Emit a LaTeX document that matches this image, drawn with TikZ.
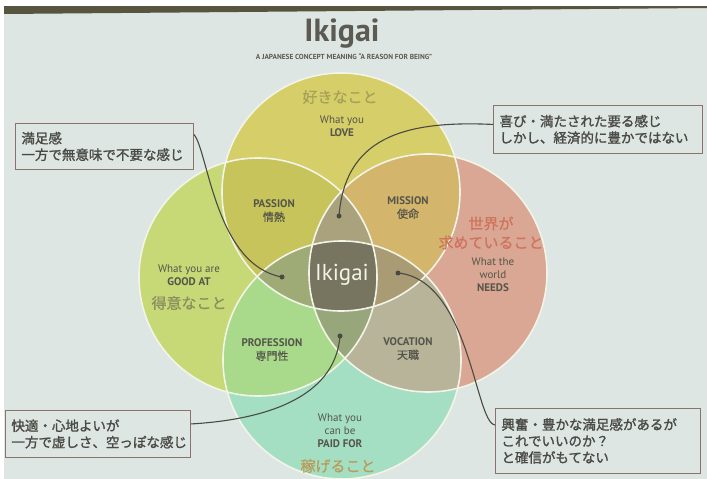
\documentclass[tikz,border=0pt]{standalone}
\usepackage{fontspec}
\setmainfont{PT Sans}
\newfontfamily\jp[FakeBold=0.7]{Noto Sans CJK JP}
\newfontfamily\jpc[FakeBold=1.4]{Noto Sans CJK JP}
\usetikzlibrary{calc}
\definecolor{bg}{HTML}{DDE6E2}
\definecolor{band}{HTML}{57553F}
\definecolor{cT}{HTML}{D5CE69}
\definecolor{cL}{HTML}{C7D876}
\definecolor{cR}{HTML}{D9A793}
\definecolor{cB}{HTML}{A5DFC3}
\definecolor{cTL}{HTML}{C6C45A}
\definecolor{cTR}{HTML}{D3B56B}
\definecolor{cLB}{HTML}{A9D98B}
\definecolor{cRB}{HTML}{B8B49A}
\definecolor{cTLR}{HTML}{A9A27C}
\definecolor{cTLB}{HTML}{9EAB76}
\definecolor{cTRB}{HTML}{A99C75}
\definecolor{cLRB}{HTML}{98A67C}
\definecolor{cQ}{HTML}{777560}
\definecolor{ringC}{HTML}{F3F4E8}
\definecolor{labC}{HTML}{55554A}
\definecolor{titleC}{HTML}{5C5B53}
\definecolor{jpT}{HTML}{A8A158}
\definecolor{jpL}{HTML}{8C8F5E}
\definecolor{jpR}{HTML}{D0735E}
\definecolor{jpB}{HTML}{B89C5A}
\definecolor{lineC}{HTML}{4B4A42}
\definecolor{boxC}{HTML}{8B726C}
\definecolor{calC}{HTML}{4A4A46}
\begin{document}
\begin{tikzpicture}[x=1pt,y=-1pt,
  lab/.style={align=center, text=labC, inner sep=0pt, font=\fontsize{11}{13}\selectfont},
  jpbig/.style={align=center, inner sep=0pt, font=\jp\fontsize{15}{19}\selectfont},
  callout/.style={draw=boxC, line width=0.9pt, fill=bg, align=left, text=calC,
    font=\jpc\fontsize{13.5}{16.5}\selectfont, inner xsep=6pt, inner ysep=3pt, anchor=north west},
  dotn/.style={circle, fill=lineC, inner sep=0pt, minimum size=5pt},
  conn/.style={draw=lineC, line width=1.1pt},
  ring/.style={draw=ringC, line width=1.6pt}]
\useasboundingbox (0,0) rectangle (707,479);
% slide background
\fill[bg] (0,0) rectangle (707,479);
\fill[white] (0,0) rectangle (707,6);
\fill[white] (0,0) rectangle (4,479);
\fill[band] (4,6) -- (707,6) -- (707,8) -- (4,14) -- cycle;
% circle centres
\coordinate (oT) at (341,192);
\coordinate (oL) at (258,277);
\coordinate (oR) at (428,273);
\coordinate (oB) at (342,360);
\def\rr{119pt}
% single circles
\fill[cL] (oL) circle[radius=\rr];
\fill[cR] (oR) circle[radius=\rr];
\fill[cB] (oB) circle[radius=\rr];
\fill[cT] (oT) circle[radius=\rr];
% pairs
\begin{scope}\clip (oT) circle[radius=\rr]; \fill[cTL] (oL) circle[radius=\rr]; \end{scope}
\begin{scope}\clip (oT) circle[radius=\rr]; \fill[cTR] (oR) circle[radius=\rr]; \end{scope}
\begin{scope}\clip (oB) circle[radius=\rr]; \fill[cLB] (oL) circle[radius=\rr]; \end{scope}
\begin{scope}\clip (oB) circle[radius=\rr]; \fill[cRB] (oR) circle[radius=\rr]; \end{scope}
% triples
\begin{scope}\clip (oT) circle[radius=\rr]; \clip (oL) circle[radius=\rr]; \fill[cTLR] (oR) circle[radius=\rr]; \end{scope}
\begin{scope}\clip (oT) circle[radius=\rr]; \clip (oL) circle[radius=\rr]; \fill[cTLB] (oB) circle[radius=\rr]; \end{scope}
\begin{scope}\clip (oT) circle[radius=\rr]; \clip (oR) circle[radius=\rr]; \fill[cTRB] (oB) circle[radius=\rr]; \end{scope}
\begin{scope}\clip (oL) circle[radius=\rr]; \clip (oR) circle[radius=\rr]; \fill[cLRB] (oB) circle[radius=\rr]; \end{scope}
% quadruple
\begin{scope}\clip (oT) circle[radius=\rr]; \clip (oL) circle[radius=\rr]; \clip (oR) circle[radius=\rr]; \fill[cQ] (oB) circle[radius=\rr]; \end{scope}
% rings
\draw[ring] (oT) circle[radius=\rr];
\draw[ring] (oL) circle[radius=\rr];
\draw[ring] (oR) circle[radius=\rr];
\draw[ring] (oB) circle[radius=\rr];
% title
\node[text=titleC, inner sep=0pt, font=\bfseries\fontsize{32}{34}\selectfont] (title) at (342,34) {Ikigai};
\node[text=titleC, inner sep=0pt, font=\bfseries\fontsize{7.3}{9}\selectfont] (subtitle) at (344,57) {A JAPANESE CONCEPT MEANING ``A REASON FOR BEING''};
% circle labels
\node[jpbig, text=jpT] (lovejp) at (340,97) {好きなこと};
\node[lab] (love) at (342,126) {What you\\\textbf{LOVE}};
\node[lab] (good) at (189,275) {What you are\\\textbf{GOOD AT}};
\node[jpbig, text=jpL] (goodjp) at (189,303) {得意なこと};
\node[jpbig, text=jpR] (needsjp) at (491,233) {世界が\\求めていること};
\node[lab] (needs) at (493,275) {What the\\world\\\textbf{NEEDS}};
\node[lab] (paid) at (340,431) {What you\\can be\\\textbf{PAID FOR}};
\node[jpbig, text=jpB] (paidjp) at (338,466) {稼げること};
% intersection labels
\node[lab] (passion) at (274,211) {\textbf{PASSION}\\{\jp 情熱}};
\node[lab] (mission) at (408,208) {\textbf{MISSION}\\{\jp 使命}};
\node[lab] (profession) at (272,350) {\textbf{PROFESSION}\\{\jp 専門性}};
\node[lab] (vocation) at (408,349) {\textbf{VOCATION}\\{\jp 天職}};
\node[text=ringC, inner sep=0pt, font=\fontsize{23}{25}\selectfont] (ikigai) at (342,275) {Ikigai};
% callout boxes
\node[callout, text width=166pt, minimum height=46pt] (c1) at (15,123) {満足感\\一方で無意味で不要な感じ};
\node[callout, text width=197pt, minimum height=48pt] (c2) at (493,105) {喜び・満たされた要る感じ\\しかし、経済的に豊かではない};
\node[callout, text width=173pt, minimum height=47pt] (c3) at (5,410) {快適・心地よいが\\一方で虚しさ、空っぽな感じ};
\node[callout, text width=193pt, minimum height=65pt] (c4) at (495,408) {興奮・豊かな満足感があるが\\これでいいのか？\\と確信がもてない};
% dots
\node[dotn] (d1) at (282,277) {};
\node[dotn] (d2) at (339,216) {};
\node[dotn] (d3) at (340,336) {};
\node[dotn] (d4) at (398,273) {};
% connectors
\draw[conn] ([yshift=12pt]c1.east) .. controls (208,150) and (215,265) .. (d1.center);
\draw[conn] ([yshift=5pt]c2.west) .. controls (400,120) and (345,140) .. (d2.center);
\draw[conn] ([yshift=10pt]c3.east) .. controls (260,420) and (335,400) .. (d3.center);
\draw[conn] (d4.center) .. controls (470,280) and (475,423) .. ([yshift=16pt]c4.west);
\end{tikzpicture}
\end{document}
